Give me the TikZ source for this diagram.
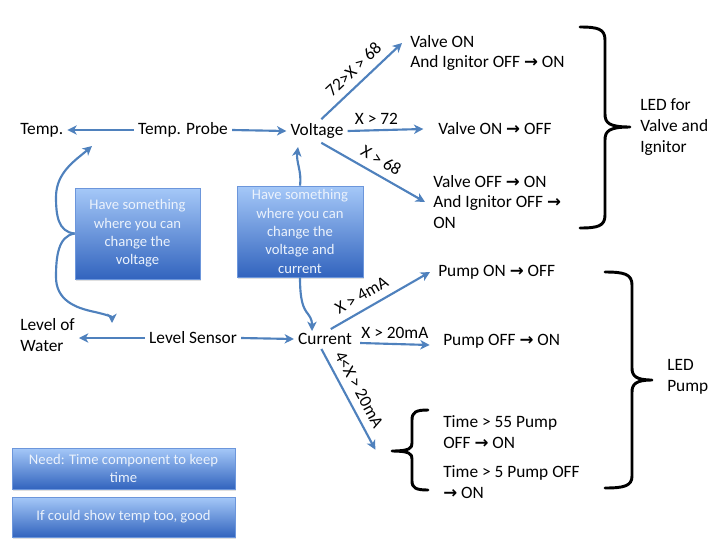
\documentclass[tikz,border=0pt]{standalone}
\usepackage{fontspec}
\setmainfont{Carlito}
\newfontfamily\symf{DejaVu Sans Bold}
\usetikzlibrary{arrows.meta,shadows}
\newcommand{\ra}{{\symf\fontsize{12.5}{13}\selectfont →}}
\definecolor{lineblue}{RGB}{79,129,189}
\definecolor{boxtop}{RGB}{165,200,248}
\definecolor{boxbot}{RGB}{50,100,190}
\definecolor{boxtext}{RGB}{235,242,252}
\tikzset{
  lbl/.style={font=\fontsize{13}{15.5}\selectfont, inner sep=3pt, align=left},
  elbl/.style={font=\fontsize{13}{15.5}\selectfont, inner sep=3.5pt},
  slbl/.style={font=\fontsize{13}{15.5}\selectfont, inner sep=5.5pt, sloped, above},
  conn/.style={draw=lineblue, line width=1.6pt, -{Stealth[length=7pt,width=7pt,inset=2pt]}},
  bluebox/.style={draw=boxtop!50!boxbot, line width=0.5pt, top color=boxtop, bottom color=boxbot,
    text=boxtext, font=\fontsize{11}{13.75}\selectfont, align=center, inner sep=2pt,
    drop shadow={opacity=0.25, shadow xshift=1pt, shadow yshift=-1.5pt}},
  bracket/.style={draw=black, line width=2.2pt, line cap=round, line join=round}
}
\begin{document}
\begin{tikzpicture}[x=0.75pt,y=-0.75pt]
\useasboundingbox (0,0) rectangle (720,540);

% main text nodes
\node[lbl, anchor=west] (temp) at (16,130) {Temp.};
\node[lbl] (probe) at (183,130) {Temp. Probe};
\node[lbl] (volt) at (317,131) {Voltage};
\node[lbl, anchor=west] (valve1) at (406,53) {Valve ON\\And Ignitor OFF \ra{} ON};
\node[lbl, anchor=west] (vm) at (434,129) {Valve ON \ra{} OFF};
\node[lbl, anchor=west] (vo) at (429,202) {Valve OFF \ra{} ON\\And Ignitor OFF \ra\\ON};
\node[lbl, anchor=west] (ledv) at (636,127) {LED for\\Valve and\\Ignitor};

\node[lbl, anchor=west] (water) at (16,335) {Level of\\Water};
\node[lbl] (sensor) at (193,338) {Level Sensor};
\node[lbl] (curr) at (325,339) {Current};
\node[lbl, anchor=west] (pon) at (434,272) {Pump ON \ra{} OFF};
\node[lbl, anchor=west] (poff) at (439,341) {Pump OFF \ra{} ON};
\node[lbl, anchor=west] (t55) at (439,432) {Time > 55 Pump\\OFF \ra{} ON};
\node[lbl, anchor=west] (t5) at (439,482) {Time > 5 Pump OFF\\\ra{} ON};
\node[lbl, anchor=west] (ledp) at (663,377) {LED\\Pump};

% blue boxes
\node[bluebox, minimum width=93.75pt, minimum height=68.25pt] (b1) at (137.5,233.5)
  {Have something\\where you can\\change the\\voltage};
\node[bluebox, minimum width=94.5pt, minimum height=68.25pt] (b2) at (300,231.5)
  {Have something\\where you can\\change the\\voltage and\\current};
\node[bluebox, minimum width=167.25pt, minimum height=30.75pt] (b3) at (123.5,468.5)
  {Need: Time component to keep\\time};
\node[bluebox, minimum width=167.25pt, minimum height=30pt] (b4) at (123.5,517)
  {If could show temp too, good};

% free-end coordinates
\coordinate (c1top) at (92,146);
\coordinate (c1bot) at (112,323);
\coordinate (c2top) at (298,147);
\coordinate (c2bot) at (312,331);
\coordinate (stip) at (392,451);

% connectors
\draw[conn] (probe.west) -- (temp.east);
\draw[conn] (probe.east) -- (volt.west);
\draw[conn] (volt.70) -- node[slbl,pos=0.52]{72>X > 68} ([xshift=-3pt,yshift=7.5pt]valve1.west);
\draw[conn] (volt.east) -- node[elbl,above,pos=0.38]{X > 72} ([xshift=-8pt]vm.west);
\draw[conn] (volt.-70) -- node[slbl,pos=0.51]{X > 68} ([xshift=-3pt]vo.west);

\draw[conn] (sensor.west) -- (water.east |- sensor.west);
\draw[conn] (sensor.east) -- (curr.west);
\draw[conn] (curr.60) -- node[slbl,pos=0.38]{X > 4mA} ([xshift=-3pt]pon.west);
\draw[conn] ([xshift=3pt,yshift=-3pt]curr.east) -- node[elbl,above]{X > 20mA} ([xshift=-7pt,yshift=-3pt]poff.west);
\draw[conn] (curr.-110) -- node[slbl,pos=0.47]{4<X > 20mA} ([xshift=-12.5pt,yshift=1pt]stip);

% curved connectors from boxes
\draw[conn] (b1.west) .. controls (58,232) and (56,215) .. (56,197)
  .. controls (56,172) and (76,160) .. (c1top);
\draw[conn] (b1.west) .. controls (58,236) and (56,257) .. (56,277)
  .. controls (56,300) and (75,308) .. (95,312)
  .. controls (108,315) and (112,317) .. (c1bot);
\draw[conn] (b2.north) .. controls (302,172) and (296,162) .. (c2top);
\draw[conn] (b2.south) .. controls (300,300) and (303,308) .. (308,314)
  .. controls (312,319) and (312,323) .. (c2bot);

% braces
\draw[bracket] (580,27) .. controls (598,27) and (605,29) .. (605,40) -- (605,114)
  .. controls (605,123) and (609,127) .. (630,127)
  .. controls (609,127) and (605,131) .. (605,140) -- (605,215)
  .. controls (605,226) and (598,228) .. (580,228);
\draw[bracket] (605,272) .. controls (624,272) and (632,274) .. (632,285) -- (632,368)
  .. controls (632,376) and (636,380) .. (652,380)
  .. controls (636,380) and (632,384) .. (632,392) -- (632,476)
  .. controls (632,486) and (624,488) .. (605,488);
\draw[bracket] (428,410) .. controls (416,410) and (412,412) .. (412,420) -- (412,443)
  .. controls (412,448) and (410,451) .. (stip)
  .. controls (410,451) and (412,454) .. (412,459) -- (412,481)
  .. controls (412,488) and (416,490) .. (428,490);
\end{tikzpicture}
\end{document}
